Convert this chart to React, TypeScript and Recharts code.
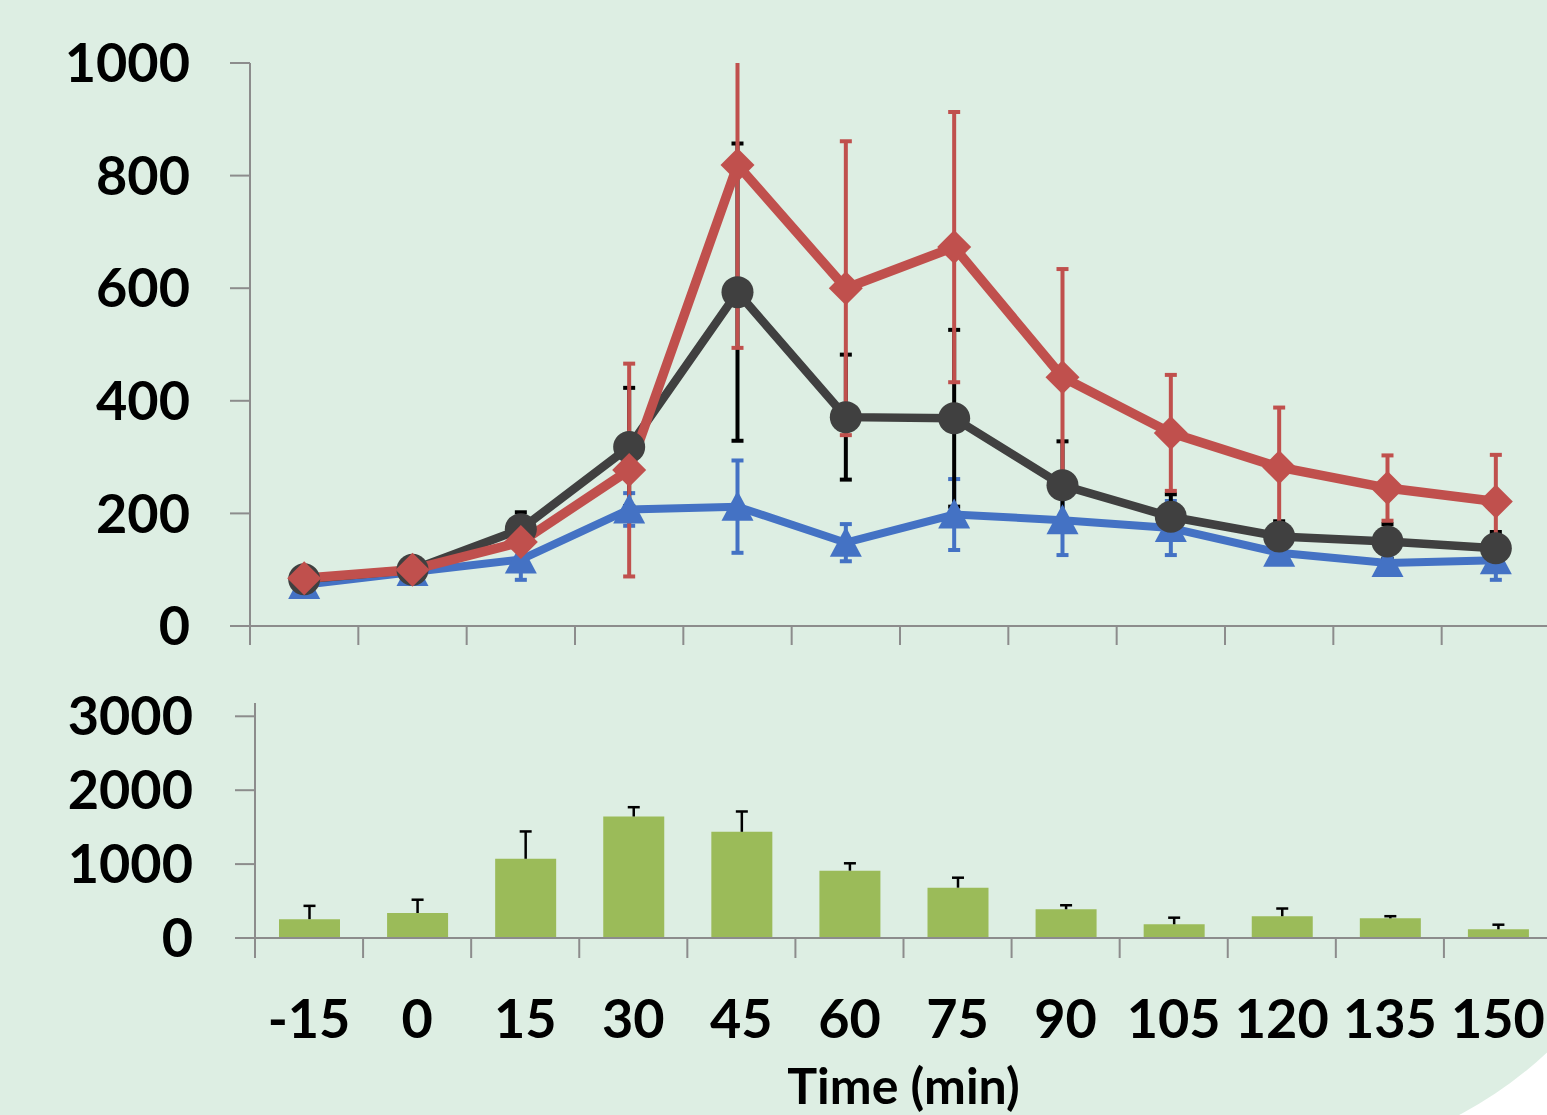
import React from 'react';
import { LineChart, Line, XAxis, YAxis, ErrorBar, BarChart, Bar } from 'recharts';

// sampling times (min) and the category boundaries used for the tick marks
const times = [-15, 0, 15, 30, 45, 60, 75, 90, 105, 120, 135, 150];
const boundaryTicks = [-22.5, -7.5, 7.5, 22.5, 37.5, 52.5, 67.5, 82.5, 97.5, 112.5, 127.5, 142.5, 157.5];
const topTicks = [0, 200, 400, 600, 800, 1000];
const bottomTicks = [0, 1000, 2000, 3000];

// top panel: three series with SEM
const blackMean = [83, 100, 172, 318, 593, 371, 369, 250, 194, 159, 150, 138];
const blackErr = [10, 10, 30, 105, 264, 111, 157, 78, 40, 27, 31, 29];
const redMean = [85, 100, 149, 277, 819, 600, 673, 442, 343, 282, 245, 221];
const redErr = [10, 10, 15, 189, 325, 261, 240, 192, 103, 106, 58, 83];
const blueMean = [73, 96, 118, 207, 212, 148, 198, 188, 174, 130, 112, 117];
const blueErr = [10, 10, 36, 29, 82, 33, 63, 62, 48, 15, 10, 35];

// bottom panel: bars with upper error only
const barMean = [255, 338, 1072, 1644, 1437, 911, 681, 389, 186, 295, 266, 118];
const barErr = [180, 180, 370, 126, 275, 100, 135, 54, 89, 104, 29, 62];

const lineData = times.map((t, i) => ({
  t,
  black: blackMean[i],
  blackErr: blackErr[i],
  red: redMean[i],
  redErr: redErr[i],
  blue: blueMean[i],
  blueErr: blueErr[i],
}));

const barData = times.map((t, i) => ({ t, value: barMean[i], err: barErr[i] }));

const AXIS = '#8c8c8c';
const BG = '#DDEEE3';
const tickFont = { fill: '#000', fontSize: 54, fontWeight: 700, fontFamily: 'Lato' };

// error bars that run past the axis max get cut at the plot top, like Excel does
const clipCss = `
.top-panel [class*="recharts-errorBar"] { clip-path: url(#topPlotClip); }
`;

const NoLabel = () => <g />;

const CircleDot = (p: any) => (
  <circle key={`c-${p.index}`} cx={p.cx} cy={p.cy} r={16} fill="#404040" />
);

const DiamondDot = (p: any) => (
  <path
    key={`d-${p.index}`}
    d={`M${p.cx},${p.cy - 17}L${p.cx + 17},${p.cy}L${p.cx},${p.cy + 17}L${p.cx - 17},${p.cy}Z`}
    fill="#C0504D"
  />
);

const TriangleDot = (p: any) => (
  <path
    key={`t-${p.index}`}
    d={`M${p.cx},${p.cy - 16}L${p.cx + 16},${p.cy + 14}L${p.cx - 16},${p.cy + 14}Z`}
    fill="#4472C4"
  />
);

const Whisker = (p: any) => {
  const cx = p.x + p.width / 2;
  return (
    <g>
      <line x1={cx} x2={cx} y1={p.y + p.height} y2={p.y} stroke="#000" strokeWidth={2.5} />
      <line x1={cx - 6} x2={cx + 6} y1={p.y} y2={p.y} stroke="#000" strokeWidth={2.5} />
    </g>
  );
};

export default function App() {
  return (
    <div style={{ position: 'fixed', left: 0, top: 0, width: 1547, height: 1115, overflow: 'hidden', background: '#fff' }}>
      <style>{clipCss}</style>
      <svg width={0} height={0} style={{ position: 'absolute' }}>
        <defs>
          <clipPath id="topPlotClip" clipPathUnits="userSpaceOnUse">
            <rect x={0} y={63} width={1600} height={700} />
          </clipPath>
        </defs>
      </svg>
      <div
        style={{
          position: 'absolute',
          left: 0,
          top: 0,
          width: 1673,
          height: 1161,
          background: BG,
          borderBottomRightRadius: 400,
        }}
      />
      <div className="top-panel" style={{ position: 'absolute', left: 0, top: 0 }}>
        <LineChart width={1550} height={664} data={lineData} margin={{ top: 63, right: 0, bottom: 18, left: 0 }}>
          <XAxis
            type="number"
            dataKey="t"
            domain={[-22.5, 157.5]}
            ticks={boundaryTicks}
            interval={0}
            tick={NoLabel}
            tickSize={19}
            height={20}
            stroke={AXIS}
            strokeWidth={2}
            allowDataOverflow
          />
          <YAxis
            type="number"
            domain={[0, 1000]}
            ticks={topTicks}
            interval={0}
            width={250}
            tickSize={20}
            tickMargin={40}
            stroke={AXIS}
            strokeWidth={2}
            tick={tickFont}
            allowDataOverflow
          />
          <Line
            dataKey="blue"
            stroke="#4472C4"
            strokeWidth={8}
            dot={TriangleDot}
            isAnimationActive={false}
          >
            <ErrorBar dataKey="blueErr" direction="y" width={6} strokeWidth={4} stroke="#4472C4" />
          </Line>
          <Line
            dataKey="black"
            stroke="#404040"
            strokeWidth={8.5}
            dot={CircleDot}
            isAnimationActive={false}
          >
            <ErrorBar dataKey="blackErr" direction="y" width={6} strokeWidth={4} stroke="#000" />
          </Line>
          <Line
            dataKey="red"
            stroke="#C0504D"
            strokeWidth={9.5}
            dot={DiamondDot}
            isAnimationActive={false}
          >
            <ErrorBar dataKey="redErr" direction="y" width={6} strokeWidth={4} stroke="#C0504D" />
          </Line>
        </LineChart>
      </div>
      <div style={{ position: 'absolute', left: 0, top: 650 }}>
        <BarChart width={1552} height={472} data={barData} margin={{ top: 53, right: 0, bottom: 14, left: 0 }}>
          <XAxis
            xAxisId={0}
            type="number"
            dataKey="t"
            domain={[-22.5, 157.5]}
            ticks={boundaryTicks}
            interval={0}
            tick={NoLabel}
            tickSize={20}
            height={20}
            stroke={AXIS}
            strokeWidth={2}
            allowDataOverflow
          />
          <XAxis
            xAxisId="labels"
            type="number"
            dataKey="t"
            domain={[-22.5, 157.5]}
            ticks={times}
            interval={0}
            tickSize={0}
            tickLine={false}
            axisLine={false}
            tickMargin={42}
            height={150}
            tick={tickFont}
            allowDataOverflow
            label={{
              value: 'Time (min)',
              position: 'insideBottom',
              offset: 4,
              fill: '#000',
              fontSize: 50,
              fontWeight: 700,
              fontFamily: 'Lato',
            }}
          />
          <YAxis
            type="number"
            domain={[0, 3180]}
            ticks={bottomTicks}
            interval={0}
            width={255}
            tickSize={20}
            tickMargin={42}
            stroke={AXIS}
            strokeWidth={2}
            tick={tickFont}
            allowDataOverflow
          />
          <Bar dataKey="value" stackId="s" fill="#9BBB59" barSize={61} isAnimationActive={false} />
          <Bar dataKey="err" stackId="s" barSize={61} shape={Whisker} isAnimationActive={false} />
        </BarChart>
      </div>
    </div>
  );
}
